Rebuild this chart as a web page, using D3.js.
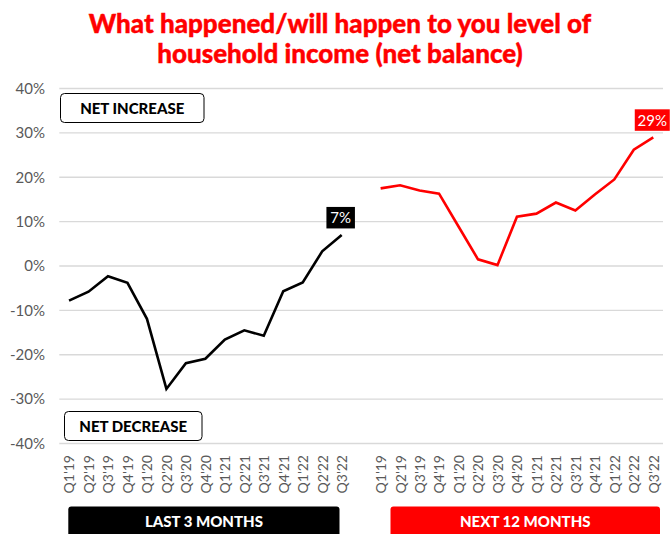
<!DOCTYPE html>
<html>
<head>
<meta charset="utf-8">
<script src="https://cdn.jsdelivr.net/npm/d3@7/dist/d3.min.js"></script>
<style>
  html, body { margin: 0; padding: 0; background: #fff; }
  svg { display: block; font-family: Lato, "Open Sans", sans-serif; }
</style>
</head>
<body>
<svg id="chart" width="670" height="534"></svg>
<script>
// Survey quarters (shared by both panels)
const quarters = ["Q1'19","Q2'19","Q3'19","Q4'19","Q1'20","Q2'20","Q3'20","Q4'20",
                  "Q1'21","Q2'21","Q3'21","Q4'21","Q1'22","Q2'22","Q3'22"];
// Net balance, % — past three months
const last3Months = [-7.8,-5.8,-2.3,-3.8,-11.9,-27.7,-21.9,-20.9,-16.6,-14.5,-15.7,-5.7,-3.7,3.3,7];
// Net balance, % — expectations for next twelve months
const next12Months = [17.5,18.2,17.0,16.3,8.9,1.5,0.2,11.1,11.8,14.3,12.5,16.1,19.5,26.2,29];
const yTicks = [-40,-30,-20,-10,0,10,20,30,40];
const titleLines = ["What happened/will happen to you level of", "household income (net balance)"];

const RED = "#ff0000";
const svg = d3.select("#chart");

// one categorical axis: left panel, an empty slot, right panel
const leftKeys = quarters.map(q => "L|" + q);
const rightKeys = quarters.map(q => "N|" + q);
const x = d3.scalePoint()
  .domain([...leftKeys, "gap", ...rightKeys])
  .range([59.3, 663])
  .padding(0.5);

const y = d3.scaleLinear().domain([-40, 40]).range([443.5, 88.5]);

// title
svg.append("g").selectAll("text").data(titleLines).join("text")
  .attr("x", 340).attr("y", (d, i) => 33 + i * 30)
  .attr("text-anchor", "middle")
  .attr("fill", RED)
  .attr("font-weight", 900)
  .attr("font-size", 26)
  .attr("stroke", RED).attr("stroke-width", 0.4)
  .text(d => d);

// gridlines
svg.append("g").selectAll("line").data(yTicks).join("line")
  .attr("x1", 59.3).attr("x2", 663)
  .attr("y1", d => y(d)).attr("y2", d => y(d))
  .attr("stroke", "#d9d9d9").attr("stroke-width", 1.3);

// y axis labels
const yAxis = d3.axisLeft(y).tickValues(yTicks).tickSize(0).tickPadding(0)
  .tickFormat(d => d + "%");
svg.append("g").attr("transform", "translate(45,0)").call(yAxis)
  .call(g => g.select(".domain").remove())
  .call(g => g.selectAll("text")
    .attr("fill", "#595959").attr("font-size", 15)
    .attr("font-family", "Lato, 'Open Sans', sans-serif"));

// x axis labels (rotated)
const xAxis = d3.axisBottom(x).tickValues([...leftKeys, ...rightKeys])
  .tickSize(0).tickFormat(d => d.split("|")[1]);
svg.append("g").attr("transform", "translate(0,455)").call(xAxis)
  .call(g => g.select(".domain").remove())
  .call(g => g.selectAll("text")
    .attr("fill", "#595959").attr("font-size", 14)
    .attr("font-family", "Lato, 'Open Sans', sans-serif")
    .attr("text-anchor", "end")
    .attr("transform", "rotate(-90)")
    .attr("x", 0).attr("y", 0).attr("dy", "0.35em"));

// lines
const line = d3.line().x(d => x(d[0])).y(d => y(d[1]));
svg.append("path")
  .datum(leftKeys.map((k, i) => [k, last3Months[i]]))
  .attr("d", line).attr("fill", "none")
  .attr("stroke", "#000").attr("stroke-width", 2.6).attr("stroke-linejoin", "miter");
svg.append("path")
  .datum(rightKeys.map((k, i) => [k, next12Months[i]]))
  .attr("d", line).attr("fill", "none")
  .attr("stroke", RED).attr("stroke-width", 2.6).attr("stroke-linejoin", "miter");

// end-value labels
function endLabel(key, value, fill, w) {
  const cx = x(key) - 1, top = y(value) - 28;
  svg.append("rect").attr("x", cx - w / 2).attr("y", top)
    .attr("width", w).attr("height", 21.5).attr("fill", fill);
  svg.append("text").attr("x", cx).attr("y", top + 16.5)
    .attr("text-anchor", "middle").attr("fill", "#fff")
    .attr("font-size", 15).text(Math.round(value) + "%");
}
endLabel(leftKeys[leftKeys.length - 1], last3Months[last3Months.length - 1], "#000", 28.5);
endLabel(rightKeys[rightKeys.length - 1], next12Months[next12Months.length - 1], RED, 35);

// net increase / decrease boxes
function noteBox(x0, y0, w, h, label) {
  svg.append("rect").attr("x", x0).attr("y", y0).attr("width", w).attr("height", h)
    .attr("rx", 4).attr("fill", "#fff").attr("stroke", "#000").attr("stroke-width", 1);
  svg.append("text").attr("x", x0 + w / 2).attr("y", y0 + h / 2 + 5.5)
    .attr("text-anchor", "middle").attr("font-weight", 900).attr("font-size", 15)
    .attr("fill", "#000").text(label);
}
noteBox(60.5, 93.5, 143.5, 29, "NET INCREASE");
noteBox(64.5, 411.5, 137.5, 29, "NET DECREASE");

// panel captions
function caption(x0, x1, fill, label) {
  svg.append("rect").attr("x", x0).attr("y", 506.5).attr("width", x1 - x0).attr("height", 32)
    .attr("rx", 3).attr("fill", fill);
  svg.append("text").attr("x", (x0 + x1) / 2).attr("y", 526.5)
    .attr("text-anchor", "middle").attr("font-weight", 900).attr("font-size", 15)
    .attr("fill", "#fff").text(label);
}
caption(68.3, 339.5, "#000", "LAST 3 MONTHS");
caption(390.5, 660, RED, "NEXT 12 MONTHS");
</script>
</body>
</html>
